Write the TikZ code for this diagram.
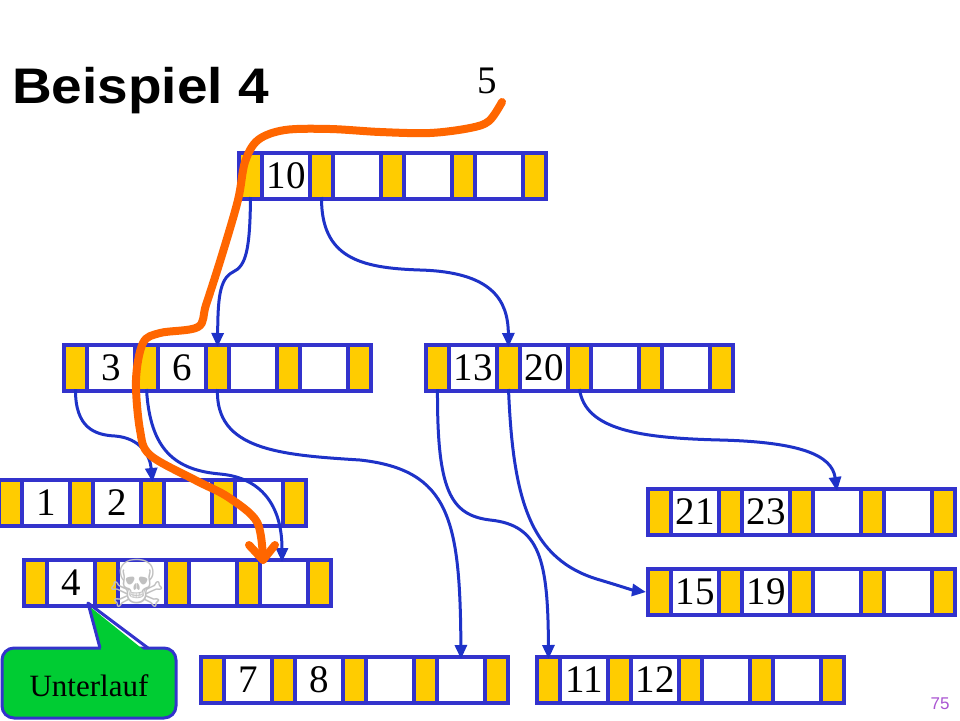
\documentclass[tikz,border=0pt]{standalone}
\usepackage{fontspec}
\setmainfont{Liberation Serif}
\newfontfamily\titlefont{Liberation Sans}
\newfontfamily\symfont{DejaVu Sans}
\usetikzlibrary{arrows.meta,calc}
\definecolor{nodeblue}{RGB}{51,51,204}
\definecolor{connblue}{RGB}{30,50,200}
\definecolor{ptryellow}{RGB}{255,204,0}
\definecolor{pathorange}{RGB}{255,102,0}
\definecolor{callgreen}{RGB}{0,204,51}
\definecolor{skullgray}{RGB}{192,192,192}
\definecolor{pagenum}{RGB}{170,85,210}
\newcommand\kfont{\fontsize{39}{42}\selectfont}
\tikzset{
  nodebg/.style={fill=nodeblue, draw=none, minimum width=311pt, minimum height=50pt, inner sep=0pt, outer sep=0pt},
  ptrcell/.style={fill=ptryellow, draw=none, minimum width=19pt, minimum height=42pt, inner sep=0pt, outer sep=0pt},
  keycell/.style={fill=white, draw=none, minimum width=44pt, minimum height=42pt, inner sep=0pt, outer sep=0pt, font=\kfont},
  conn/.style={draw=connblue, line width=3pt, -{Triangle[length=14pt,width=12pt]}},
  hand/.style={draw=pathorange, line width=8pt, line cap=round, line join=round},
  callout/.style={fill=callgreen, draw=nodeblue, line width=3pt, line join=round},
}
\newcommand\btnode[5]{%
  \node[nodebg, anchor=north west] (#1) at (#2,#3) {};
  \foreach \i in {1,...,5}{%
    \node[ptrcell, anchor=north west] (#1-p\i) at ($(#1.north west)+({4+71*(\i-1)},4)$) {};}
  \node[keycell, anchor=north west] (#1-k1) at ($(#1.north west)+(27,4)$) {#4};
  \node[keycell, anchor=north west] (#1-k2) at ($(#1.north west)+(98,4)$) {#5};
  \node[keycell, anchor=north west] (#1-k3) at ($(#1.north west)+(169,4)$) {};
  \node[keycell, anchor=north west] (#1-k4) at ($(#1.north west)+(240,4)$) {};
}
\begin{document}
\begin{tikzpicture}[x=1pt, y=-1pt]
\useasboundingbox (0,0) rectangle (960,720);
\fill[white] (0,0) rectangle (960,720);

% title
\node[anchor=base west, inner sep=0pt, xscale=1.1, font=\titlefont\bfseries\fontsize{50}{52}\selectfont] (title) at (12,103) {Beispiel 4};
\node[inner sep=0pt, font=\kfont] (five) at (487,81) {5};

% B-tree nodes
\btnode{root}{237}{151}{10}{}
\btnode{n36}{62}{343}{3}{6}
\btnode{n1320}{424}{343}{13}{20}
\btnode{n12}{-3}{478}{1}{2}
\btnode{n4}{22}{558}{4}{}
\btnode{n78}{199}{655}{7}{8}
\btnode{n1112}{535}{655}{11}{12}
\btnode{n2123}{646}{487}{21}{23}
\btnode{n1519}{646}{567}{15}{19}

% skull over the removed key
\node[inner sep=0pt, text=skullgray, font=\symfont\fontsize{66}{66}\selectfont] (skull) at (137,583) {☠};

% connectors
\draw[conn] (root-p1.south) .. controls (250,250) and (246,266) .. (233,272) .. controls (219,279) and (218,300) .. (n36-p3.north);
\draw[conn] (root-p2.south) .. controls (321,258) and (360,268) .. (420,270) .. controls (492,272) and (508,300) .. (n1320-p2.north);
\draw[conn] (n36-p1.south) .. controls (75,428) and (95,435) .. (115,436) .. controls (140,438) and (150,455) .. (n12-p3.north);
\draw[conn] (n36-p2.south) .. controls (150,450) and (175,470) .. (220,474) .. controls (265,478) and (282,510) .. ($(n4-k4.north)+(-2,0)$);
\draw[conn] (n36-p3.south) .. controls (215,450) and (280,455) .. (360,460) .. controls (450,470) and (460,520) .. (n78-k4.north);
\draw[conn] (n1320-p1.south) .. controls (437,490) and (450,515) .. (490,520) .. controls (540,525) and (548,560) .. (n1112-p1.north);
\draw[conn] (n1320-p2.south) .. controls (513,500) and (530,560) .. (600,580) .. controls (620,586) and (632,590) .. (n1519.west);
\draw[conn] (n1320-p3.south) .. controls (585,430) and (640,438) .. (720,440) .. controls (800,442) and (832,455) .. (n2123-k3.north);

% orange search path
\draw[hand] plot[smooth, tension=0.55] coordinates {(502,102) (489,121) (470,128) (430,133) (380,132) (330,129) (285,130) (258,140) (245,162) (238,200) (222,255) (206,305) (198,327) (160,333) (143,343) (136,380) (140,430) (150,455) (195,480) (228,497) (257,522) (263,560)};
\draw[hand] (249,545) -- (263,560) -- (275,545);

% callout
\draw[callout, rounded corners=12pt] (2,648) rectangle (176,718);
\fill[callgreen] (101.5,651) -- (89,606) -- (145,651) -- cycle;
\draw[nodeblue, line width=3pt, line join=round] (100,648) -- (88,603) -- (148,648);
\node[inner sep=0pt, font=\fontsize{31}{32}\selectfont] (unterlauf) at (89,686) {Unterlauf};

% page number
\node[inner sep=0pt, text=pagenum, font=\titlefont\fontsize{17}{18}\selectfont] (page) at (940,704) {75};
\end{tikzpicture}
\end{document}
